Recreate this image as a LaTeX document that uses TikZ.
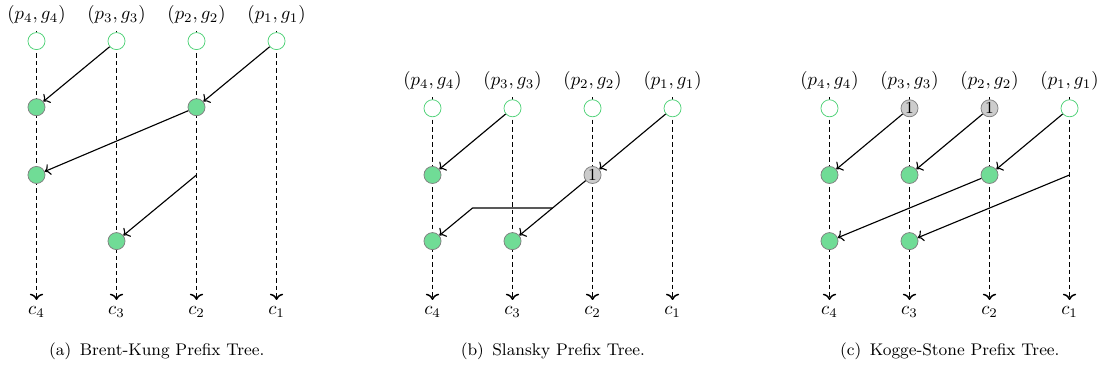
\documentclass[tikz,border=0pt]{standalone}
\usetikzlibrary{arrows.meta,calc}
\definecolor{opgreen}{RGB}{112,220,150}
\definecolor{ringgreen}{RGB}{80,210,120}

\begin{document}
\begin{tikzpicture}[
      every node/.style={font=\normalsize},
      wire/.style={dash pattern=on 2.4pt off 1.6pt,->,thick},
      arr/.style={->,semithick},
      inbox/.style={circle,draw=ringgreen,fill=white,minimum size=0.32cm,inner sep=0pt},
      opbox/.style={circle,draw=gray,fill=opgreen,minimum size=0.32cm,inner sep=0pt},
      onebox/.style={circle,draw=gray,fill=gray!40,minimum size=0.32cm,inner sep=0pt,font=\small},
      captext/.style={font=\small}
    ]
      \useasboundingbox (0,0) rectangle (20.64,-6.9);

      % (a) Brent-Kung
      \foreach \i in {1,...,4} {
        \node (a-p\i) at ({0.684+1.5*(4-\i)},-0.28) {$(p_\i,g_\i)$};
        \node (a-c\i) at ({0.684+1.5*(4-\i)},-5.85) {$c_\i$};
        \draw[wire] (a-p\i) -- (a-c\i);
        \node[inbox] (a-in\i) at ({0.684+1.5*(4-\i)},-0.77) {};
      }
      \node[opbox] (a-o41) at (0.684,-2.01) {};
      \node[opbox] (a-o21) at (3.684,-2.01) {};
      \node[opbox] (a-o42) at (0.684,-3.28) {};
      \node[opbox] (a-o33) at (2.184,-4.52) {};
      \coordinate (a-t22) at (3.684,-3.28);
      \draw[arr] (a-in3) -- (a-o41);
      \draw[arr] (a-in1) -- (a-o21);
      \draw[arr] (a-o21) -- (a-o42);
      \draw[arr] (a-t22) -- (a-o33);
      \node[captext] (a-cap) at (2.94,-6.58) {(a)\enspace Brent-Kung Prefix Tree.};

      % (b) Slansky
      \begin{scope}[xshift=7.424cm]
        \foreach \i in {1,...,4} {
          \node (b-p\i) at ({0.684+1.5*(4-\i)},-1.52) {$(p_\i,g_\i)$};
          \node (b-c\i) at ({0.684+1.5*(4-\i)},-5.85) {$c_\i$};
          \draw[wire] (b-p\i) -- (b-c\i);
          \node[inbox] (b-in\i) at ({0.684+1.5*(4-\i)},-2.03) {};
        }
        \node[opbox] (b-o41) at (0.684,-3.28) {};
        \node[onebox] (b-g21) at (3.684,-3.28) {1};
        \node[opbox] (b-o42) at (0.684,-4.52) {};
        \node[opbox] (b-o32) at (2.184,-4.52) {};
        \draw[arr] (b-in3) -- (b-o41);
        \draw[arr] (b-in1) -- (b-g21);
        \draw[arr] (b-g21) -- (b-o32);
        \coordinate (b-m) at ($(b-g21)!0.5!(b-o32)$);
        \coordinate (b-k) at (1.434,-3.9);
        \draw[arr] (b-m) -- (b-k) -- (b-o42);
        \node[captext] (b-cap) at (2.94,-6.58) {(b)\enspace Slansky Prefix Tree.};
      \end{scope}

      % (c) Kogge-Stone
      \begin{scope}[xshift=14.866cm]
        \foreach \i in {1,...,4} {
          \node (c-p\i) at ({0.684+1.5*(4-\i)},-1.52) {$(p_\i,g_\i)$};
          \node (c-c\i) at ({0.684+1.5*(4-\i)},-5.85) {$c_\i$};
          \draw[wire] (c-p\i) -- (c-c\i);
        }
        \node[inbox] (c-in4) at (0.684,-2.03) {};
        \node[onebox] (c-in3) at (2.184,-2.03) {1};
        \node[onebox] (c-in2) at (3.684,-2.03) {1};
        \node[inbox] (c-in1) at (5.184,-2.03) {};
        \node[opbox] (c-o41) at (0.684,-3.28) {};
        \node[opbox] (c-o31) at (2.184,-3.28) {};
        \node[opbox] (c-o21) at (3.684,-3.28) {};
        \node[opbox] (c-o42) at (0.684,-4.52) {};
        \node[opbox] (c-o32) at (2.184,-4.52) {};
        \coordinate (c-t12) at (5.184,-3.28);
        \draw[arr] (c-in3) -- (c-o41);
        \draw[arr] (c-in2) -- (c-o31);
        \draw[arr] (c-in1) -- (c-o21);
        \draw[arr] (c-o21) -- (c-o42);
        \draw[arr] (c-t12) -- (c-o32);
        \node[captext] (c-cap) at (2.94,-6.58) {(c)\enspace Kogge-Stone Prefix Tree.};
      \end{scope}
    \end{tikzpicture}
\end{document}
